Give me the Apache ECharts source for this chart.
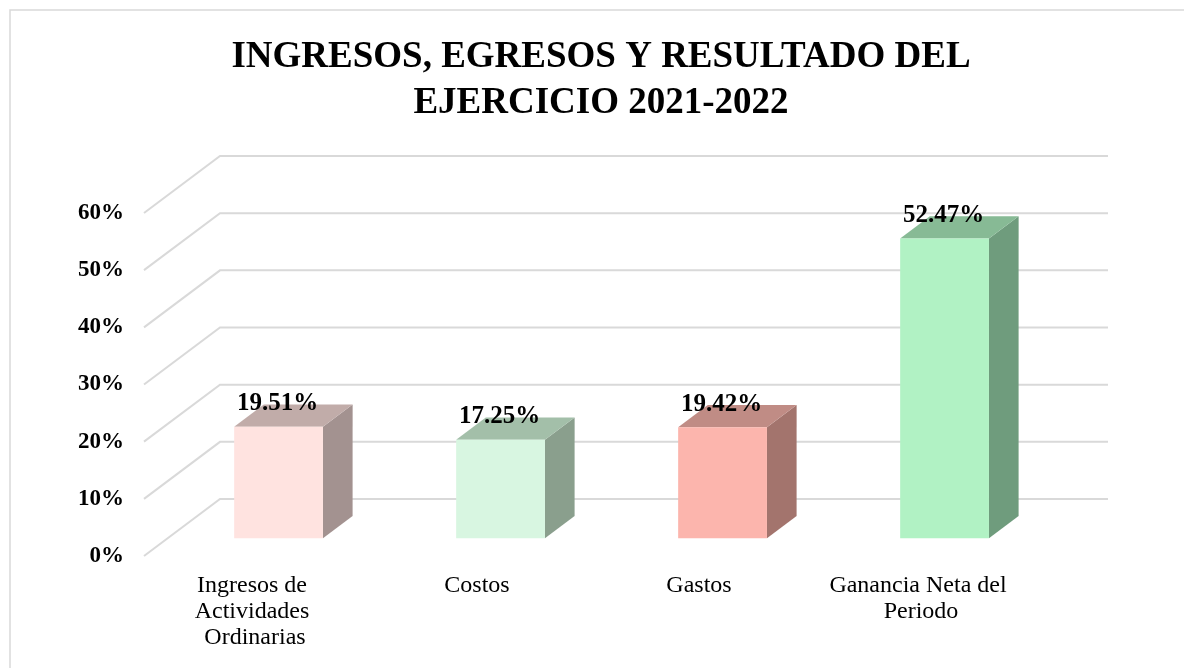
<!DOCTYPE html>
<html>
<head>
<meta charset="utf-8">
<script src="https://cdn.jsdelivr.net/npm/echarts@6/dist/echarts.min.js"></script>
<style>
  html, body { margin: 0; padding: 0; background: #fff; }
  #chart { width: 1184px; height: 668px; }
</style>
</head>
<body>
<div id="chart"></div>
<script>
// data
const categories = ['Ingresos de Actividades Ordinarias', 'Costos', 'Gastos', 'Ganancia Neta del Periodo'];
const values = [19.51, 17.25, 19.42, 52.47];
const yTicks = [0, 10, 20, 30, 40, 50, 60];

// colours per bar: front, side, top
const frontColors = ['#FFE3E0', '#D8F6E1', '#FCB5AD', '#B1F2C4'];
const sideColors = ['#A39290', '#8A9F8D', '#A3746D', '#6F9C7D'];
const topColors = ['#C1ACA9', '#A3BFA9', '#C08C85', '#87BA95'];

// fake 3d depth of the floor (px)
const DX = 76, DY = 57;
const FONT = '"Liberation Serif", "Times New Roman", serif';

const chart = echarts.init(document.getElementById('chart'));

function renderGrid(params, api) {
  const cs = params.coordSys;
  const y = api.coord([0, api.value(1)])[1];
  const x0 = cs.x, x1 = cs.x + cs.width;
  return {
    type: 'polyline',
    shape: { points: [[x0, y], [x0 + DX, y - DY], [x1 + DX, y - DY]] },
    style: { stroke: '#D9D9D9', lineWidth: 2, fill: null },
    silent: true
  };
}

function renderBar(params, api) {
  const i = api.value(0);
  const v = api.value(1);
  const base = api.coord([i, 0]);
  const top = api.coord([i, v]);
  const band = api.size([1, 0])[0];
  const w = band * 0.4;
  const ox = DX * 0.31, oy = DY * 0.31;
  const bx = DX * 0.39, by = DY * 0.39;
  const x = base[0] + ox - w / 2;
  const yb = base[1] - oy;
  const yt = top[1] - oy;
  return {
    type: 'group',
    children: [
      {
        type: 'polygon',
        shape: { points: [[x + w, yt], [x + w + bx, yt - by], [x + w + bx, yb - by], [x + w, yb]] },
        style: { fill: sideColors[i] }
      },
      {
        type: 'polygon',
        shape: { points: [[x, yt], [x + bx, yt - by], [x + w + bx, yt - by], [x + w, yt]] },
        style: { fill: topColors[i] }
      },
      {
        type: 'rect',
        shape: { x: x, y: yt, width: w, height: yb - yt },
        style: { fill: frontColors[i] }
      },
      {
        type: 'text',
        style: {
          text: v.toFixed(2) + '%',
          x: x + w / 2 - 1,
          y: yt - 23,
          align: 'center',
          verticalAlign: 'middle',
          font: 'bold 25px ' + FONT,
          fill: '#000'
        }
      }
    ]
  };
}

chart.setOption({
  backgroundColor: '#fff',
  animation: false,
  title: {
    text: 'INGRESOS, EGRESOS Y RESULTADO DEL\nEJERCICIO 2021-2022',
    left: 601,
    textAlign: 'center',
    top: 34,
    padding: 0,
    textStyle: {
      fontFamily: FONT,
      fontWeight: 'bold',
      fontSize: 37,
      lineHeight: 46,
      color: '#000'
    }
  },
  graphic: [{
    type: 'rect',
    shape: { x: 10, y: 10, width: 1200, height: 700 },
    style: { fill: null, stroke: '#D9D9D9', lineWidth: 1.5 },
    silent: true
  }],
  grid: { left: 144, right: 152, top: 213, bottom: 112 },
  xAxis: {
    type: 'category',
    data: categories,
    axisLine: { show: false },
    axisTick: { show: false },
    axisLabel: {
      interval: 0,
      margin: 17,
      width: 200,
      overflow: 'break',
      fontFamily: FONT,
      fontSize: 24,
      lineHeight: 26,
      color: '#000'
    }
  },
  yAxis: {
    type: 'value',
    min: 0,
    max: 60,
    interval: 10,
    axisLine: { show: false },
    axisTick: { show: false },
    splitLine: { show: false },
    axisLabel: {
      margin: 20,
      formatter: '{value}%',
      fontFamily: FONT,
      fontWeight: 'bold',
      fontSize: 23,
      color: '#000'
    }
  },
  series: [
    {
      type: 'custom',
      z: 1,
      renderItem: renderGrid,
      data: yTicks.map(t => [0, t]),
      silent: true
    },
    {
      type: 'custom',
      z: 2,
      renderItem: renderBar,
      data: values.map((v, i) => [i, v])
    }
  ]
});
</script>
</body>
</html>
